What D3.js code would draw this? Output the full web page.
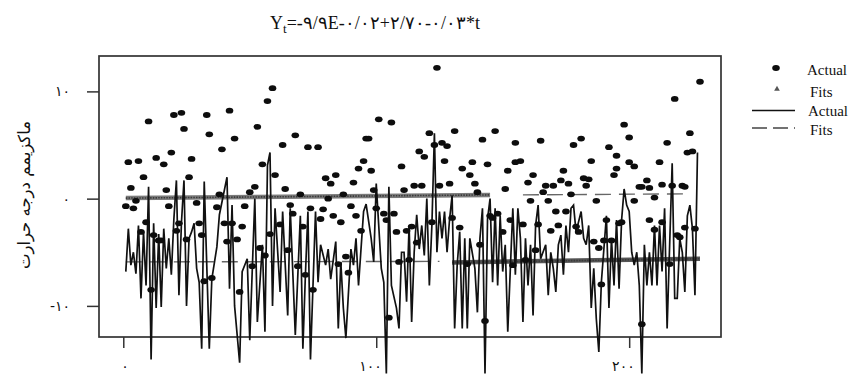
<!DOCTYPE html>
<html>
<head>
<meta charset="utf-8">
<script src="https://cdn.jsdelivr.net/npm/d3@7"></script>
<style>
  body { margin: 0; background: #fff; }
  svg text { font-family: "Liberation Serif", "DejaVu Serif", serif; fill: #111; }
  .fa { font-family: "DejaVu Sans", sans-serif; }
</style>
</head>
<body>
<svg id="chart" width="857" height="374"></svg>
<script>
var faDigits = "۰۱۲۳۴۵۶۷۸۹";
var xTicks = [0, 100, 200];
var yTicks = [-10, 0, 10];
var yLabel = "ماکزیمم درجه حرارت";
// trend equation, operators wrapped in LRM so the persian numbers keep their order
var titleParts = ["Y", "t", "=-۹/۹E\u200E-\u200E۰/۰۲\u200E+\u200E۲/۷۰\u200E-\u200E۰/۰۳\u200E*t"];
var legendLabels = ["Actual", "Fits", "Actual", "Fits"];

// Actual (symbols): [t, value]
var actualDots = [
  [1,-0.7],[2,3.4],[3,1.0],[4,-0.9],[5,-0.2],[6,3.5],[7,-3.1],[8,2.0],[9,-2.2],[10,7.2],
  [11,-8.5],[12,-3.4],[13,3.8],[14,-3.9],[15,-3.9],[16,3.2],[17,0.8],[18,-0.7],[19,4.3],[20,7.8],
  [21,-3.0],[22,-2.3],[23,8.0],[24,6.5],[25,-3.8],[26,2.0],[27,3.7],[29,-0.4],[30,-2.3],[31,-3.4],
  [32,-7.7],[33,7.8],[34,6.0],[35,-7.4],[37,-0.8],[38,0.4],[39,4.6],[40,-2.3],[41,-4.0],[42,8.2],
  [43,-2.3],[44,5.6],[45,-3.8],[46,-8.7],[47,-2.6],[48,-0.7],[50,0.6],[51,-6.3],[52,1.1],[53,6.7],
  [54,-4.6],[55,3.2],[56,-5.3],[57,9.1],[58,-3.3],[59,10.3],[60,2.2],[62,-2.4],[63,5.0],[64,0.9],
  [65,-4.8],[66,-0.6],[67,-1.4],[68,5.9],[69,-6.3],[70,0.4],[71,-2.6],[72,-7.1],[73,4.8],[74,-0.9],
  [75,-8.5],[77,4.8],[78,-1.9],[79,-1.0],[80,1.9],[81,0.0],[82,1.4],[83,-1.6],[84,2.2],[85,-6.1],
  [86,-2.2],[87,0.4],[88,-5.4],[89,-6.9],[90,-0.7],[91,1.5],[92,-1.6],[93,2.8],[94,-3.0],[95,3.5],
  [96,5.6],[97,5.6],[98,2.6],[99,0.8],[100,-0.9],[101,7.4],[103,-1.4],[104,-2.0],[105,-11.1],[106,7.1],
  [107,-1.4],[108,-3.1],[109,-5.9],[110,3.0],[111,0.8],[112,-3.0],[113,-5.7],[114,-2.6],[115,1.2],[116,-4.1],
  [117,4.4],[118,1.2],[119,3.9],[121,6.1],[122,-2.2],[123,5.0],[124,12.2],[125,1.2],[126,5.2],[127,3.5],
  [128,4.9],[129,1.4],[130,-1.8],[131,6.3],[133,-2.7],[134,2.8],[136,-6.1],[137,2.2],[138,3.4],[139,1.4],
  [140,0.6],[141,-4.3],[142,5.5],[143,-11.4],[144,3.2],[145,-1.6],[146,-1.8],[147,6.3],[148,-1.4],[150,-3.1],
  [151,0.9],[152,2.6],[153,-2.0],[154,-6.2],[155,5.2],[155,3.4],[157,3.5],[158,-2.4],[159,-5.7],[160,1.5],
  [161,-0.2],[162,2.2],[163,-4.8],[164,-2.4],[165,5.4],[166,0.6],[167,1.2],[168,-0.2],[169,-3.0],[170,1.2],
  [171,-1.2],[172,-2.5],[173,1.7],[174,2.6],[175,-1.2],[176,1.4],[177,0.4],[178,5.0],[179,-2.6],[180,-3.1],
  [181,5.6],[182,1.9],[183,1.2],[184,1.8],[185,3.5],[186,-4.0],[187,-0.2],[188,-4.6],[189,-8.0],[190,-3.9],
  [191,-2.0],[192,4.8],[193,-3.9],[194,2.2],[195,2.8],[195,4.0],[196,-2.3],[197,-2.2],[198,6.9],[200,3.4],
  [200,5.7],[202,3.0],[202,-0.2],[204,1.1],[205,1.1],[205,-11.7],[207,1.7],[208,-2.0],[208,1.0],[210,0.1],
  [210,-2.9],[212,3.4],[213,-2.2],[213,1.3],[215,5.2],[216,-6.1],[217,1.2],[218,9.3],[219,-3.4],[220,-3.6],
  [221,1.2],[222,1.1],[222,-2.7],[223,4.3],[224,6.1],[225,4.4],[226,-2.8],[228,10.9]
];

// Actual (line): [t, value]
var actualLine = [
  [1,-6.8],[2,-2.8],[3,-6.2],[4,-5.0],[5,-7.0],[6,-2.5],[7,-9.3],[8,-3.1],[9,-8.1],[10,1.1],
  [11,-15.0],[12,-2.3],[13,-10.2],[14,-3.3],[15,-10.1],[16,-2.8],[17,-6.5],[18,-3.7],[19,-7.1],[20,-1.9],
  [21,1.7],[22,-9.0],[23,-2.2],[24,1.7],[25,-10.0],[26,-3.7],[27,-3.1],[28,-2.3],[29,-6.5],[30,-7.8],
  [31,-14.0],[32,1.6],[34,-14.0],[35,-7.5],[37,-4.5],[38,-1.5],[41,2.0],[42,-8.4],[43,-0.6],[44,-10.0],
  [46,-15.3],[47,-6.8],[49,-5.6],[50,-13.2],[52,0.0],[53,-11.5],[55,-4.3],[56,-12.4],[57,3.1],[58,4.3],
  [59,-10.0],[60,-0.9],[62,-8.7],[63,-1.2],[65,-10.9],[66,-0.9],[68,-12.7],[70,-1.6],[71,-14.0],[72,-7.1],
  [73,-1.2],[74,-15.0],[76,-1.2],[77,-7.8],[78,-4.3],[80,-6.2],[81,-4.7],[82,-7.5],[84,-4.0],[85,-12.1],
  [86,-5.9],[87,-10.2],[88,-13.0],[90,-4.7],[91,-6.2],[92,-3.7],[93,-8.1],[95,-1.2],[96,-0.5],[98,-3.7],
  [99,-5.9],[100,1.4],[102,-6.5],[103,-7.8],[104,-16.3],[105,1.1],[106,-8.1],[108,-10.2],[109,-12.1],[110,-5.0],
  [111,-5.0],[112,-9.6],[113,-2.5],[114,-11.5],[115,-5.0],[116,-1.5],[117,-4.7],[118,-2.5],[119,-5.3],[120,0.0],
  [121,-8.1],[122,-2.5],[123,6.1],[124,-5.0],[125,-1.2],[126,-3.7],[127,-1.2],[128,-5.0],[129,-1.9],[130,0.3],
  [131,-12.1],[132,-6.2],[133,-3.1],[134,-12.1],[135,-3.7],[136,-12.1],[137,-3.7],[139,-6.5],[140,-10.6],[141,-3.7],
  [142,-0.9],[143,-16.3],[144,-1.9],[145,0.0],[146,-7.8],[147,-0.9],[148,-8.1],[149,-1.6],[150,-6.8],[151,-4.3],
  [152,-12.4],[154,-0.9],[155,-7.1],[156,-0.9],[157,-3.7],[158,-11.5],[159,-3.7],[160,-8.1],[161,-4.3],[162,-10.9],
  [163,-2.5],[164,-0.6],[165,-5.6],[167,-4.3],[168,-9.0],[169,-5.0],[170,-6.5],[171,-8.7],[172,-4.3],[173,-3.4],
  [174,-7.1],[175,-2.5],[176,-5.0],[177,-0.9],[178,-0.6],[179,-3.1],[181,-1.2],[182,-3.7],[183,-4.3],[184,-2.5],
  [185,-10.2],[186,-6.5],[187,-11.2],[188,-14.3],[189,-7.8],[191,-1.6],[192,-10.2],[193,-3.7],[194,-8.1],[195,-2.0],
  [196,-8.4],[197,-2.0],[198,0.9],[199,-0.6],[200,-1.2],[201,-5.0],[202,-6.2],[203,-5.0],[204,-8.1],[205,-16.3],
  [206,-4.3],[207,-8.1],[208,-5.0],[209,-8.1],[210,-2.5],[211,-8.1],[212,-2.5],[213,-6.8],[214,-0.9],[215,-12.1],
  [216,-4.3],[217,3.3],[218,-9.3],[219,-9.3],[220,-3.7],[221,-5.0],[222,-8.7],[223,-1.6],[224,-0.6],[225,-2.8],
  [226,-9.0],[227,4.3]
];

// Fits: trend end points
var fitSymbolsTop = [[1, 0.05], [145, 0.35]];
var fitSymbolsBottom = [[130, -5.95], [228, -5.6]];
var fitDashTop = [[158, 0.35], [224, 0.45]];
var fitDashBottom = [[1, -5.9], [125, -5.85]];

function toFa(v) {
  return String(v).replace(/\d/g, function (d) { return faDigits[d]; });
}

var plotLeft = 99, plotRight = 721, plotTop = 56, plotBottom = 337;

var x = d3.scaleLinear().domain([-9.6, 236.3]).range([plotLeft, plotRight]);
var y = d3.scaleLinear().domain([-12.9, 13.3]).range([plotBottom, plotTop]);

var svg = d3.select("#chart");
svg.append("rect").attr("width", 857).attr("height", 374).attr("fill", "#fff");

var line = d3.line()
  .x(function (d) { return x(d[0]); })
  .y(function (d) { return y(d[1]); });

///////// FRAME /////////
svg.append("rect")
  .attr("x", plotLeft).attr("y", plotTop)
  .attr("width", plotRight - plotLeft).attr("height", plotBottom - plotTop)
  .attr("fill", "none").attr("stroke", "#333").attr("stroke-width", 1.7);

///////// AXES /////////
var yAxis = svg.append("g")
  .attr("transform", "translate(" + plotLeft + ",0)")
  .call(d3.axisLeft(y).tickValues(yTicks).tickSize(12).tickPadding(17).tickFormat(toFa));
yAxis.select(".domain").remove();

var xAxis = svg.append("g")
  .attr("transform", "translate(0," + plotBottom + ")")
  .call(d3.axisBottom(x).tickValues(xTicks).tickSize(11).tickPadding(13).tickFormat(toFa));
xAxis.select(".domain").remove();
xAxis.selectAll("text").attr("text-anchor", "end").attr("x", 5);

svg.selectAll(".tick line").attr("stroke", "#333").attr("stroke-width", 1.5);
svg.selectAll(".tick text")
  .attr("class", "fa")
  .style("font-family", "'DejaVu Sans', sans-serif")
  .style("font-size", "14px")
  .attr("fill", "#222");

///////// FITS /////////
svg.append("path").datum(fitDashBottom).attr("d", line)
  .attr("fill", "none").attr("stroke", "#666").attr("stroke-width", 1.4)
  .attr("stroke-dasharray", "16,8");
svg.append("path").datum(fitDashTop).attr("d", line)
  .attr("fill", "none").attr("stroke", "#666").attr("stroke-width", 1.4)
  .attr("stroke-dasharray", "16,8");

[fitSymbolsTop, fitSymbolsBottom].forEach(function (f, i) {
  svg.append("path").datum(f).attr("d", line)
    .attr("fill", "none").attr("stroke", i ? "#555" : "#7a7a7a").attr("stroke-width", 4.5);
  svg.append("path").datum(f).attr("d", line)
    .attr("fill", "none").attr("stroke", "#3a3a3a").attr("stroke-width", 1.6)
    .attr("stroke-dasharray", "1.5,1.2");
});

///////// ACTUAL LINE /////////
svg.append("path").datum(actualLine).attr("d", line)
  .attr("fill", "none").attr("stroke", "#111").attr("stroke-width", 1.7)
  .attr("stroke-linejoin", "miter");

///////// ACTUAL DOTS /////////
svg.selectAll(".dot").data(actualDots).enter().append("ellipse")
  .attr("class", "dot")
  .attr("cx", function (d) { return x(d[0]); })
  .attr("cy", function (d) { return y(d[1]); })
  .attr("rx", 3.8).attr("ry", 2.9)
  .attr("fill", "#0d0d0d");

///////// TITLE /////////
var title = svg.append("text")
  .attr("x", 375).attr("y", 29)
  .attr("text-anchor", "middle")
  .style("font-size", "18px");
title.append("tspan").text(titleParts[0]);
title.append("tspan").attr("dy", 4).style("font-size", "13px").text(titleParts[1]);
title.append("tspan").attr("dy", -4).text(titleParts[2]);

///////// Y LABEL /////////
svg.append("text")
  .attr("class", "fa")
  .attr("transform", "translate(30,195) rotate(-90)")
  .attr("text-anchor", "middle")
  .style("font-size", "16.5px")
  .text(yLabel);

///////// LEGEND /////////
var lg = svg.append("g");
lg.append("ellipse").attr("cx", 776).attr("cy", 68).attr("rx", 3.8).attr("ry", 2.9).attr("fill", "#0d0d0d");
lg.append("path").attr("d", d3.symbol(d3.symbolTriangle, 14)()).attr("transform", "translate(777,89)").attr("fill", "#555");
lg.append("line").attr("x1", 752).attr("x2", 795).attr("y1", 110.5).attr("y2", 110.5)
  .attr("stroke", "#111").attr("stroke-width", 1.6);
lg.append("line").attr("x1", 752).attr("x2", 795).attr("y1", 128).attr("y2", 128)
  .attr("stroke", "#444").attr("stroke-width", 1.5).attr("stroke-dasharray", "15,6");
var legendPos = [[807, 75], [810, 97], [808, 116], [810, 135]];
lg.selectAll("text").data(legendLabels).enter().append("text")
  .attr("x", function (d, i) { return legendPos[i][0]; })
  .attr("y", function (d, i) { return legendPos[i][1]; })
  .style("font-size", "15px")
  .text(function (d) { return d; });
</script>
</body>
</html>
